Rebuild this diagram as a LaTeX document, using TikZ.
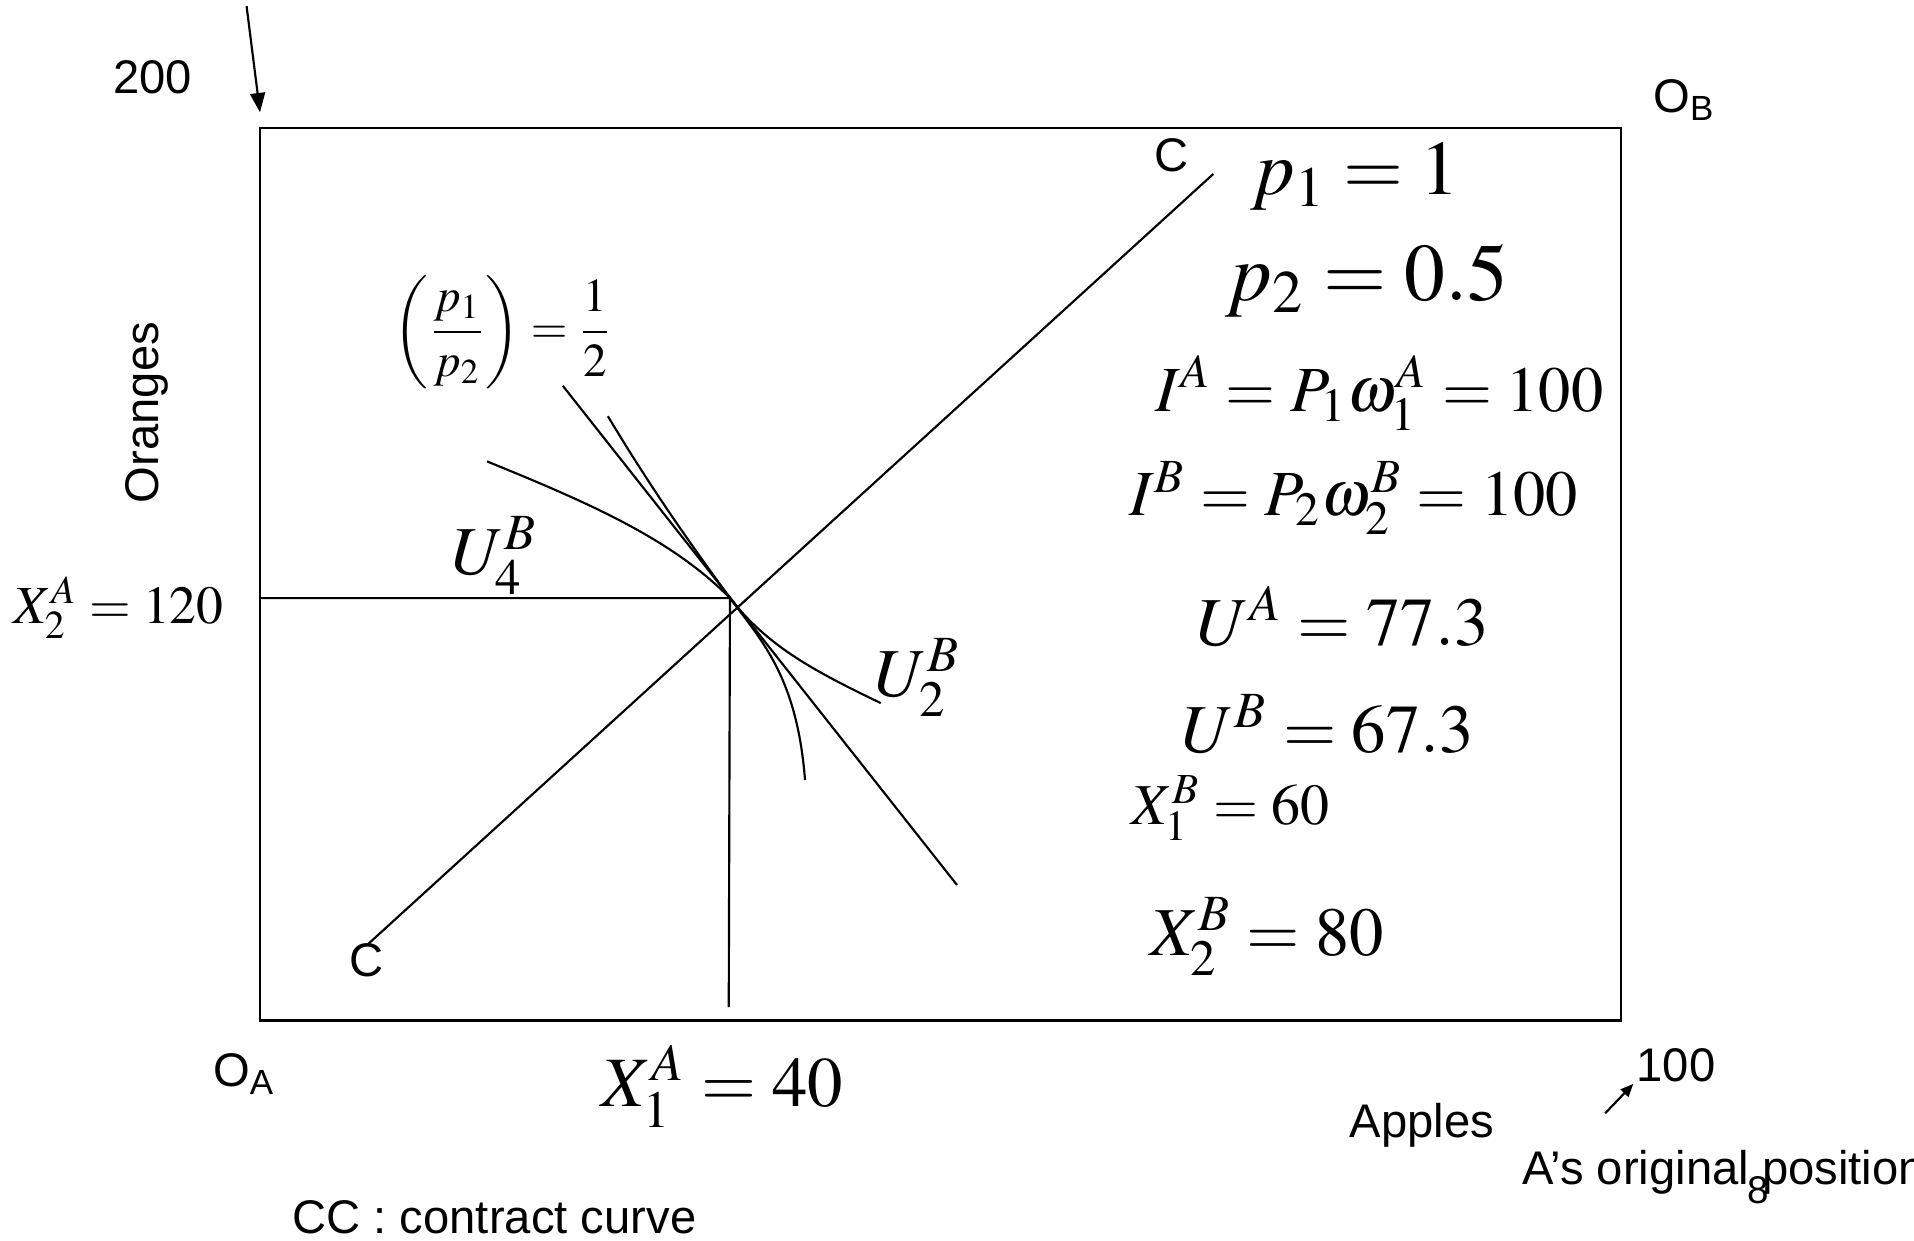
\documentclass[tikz,border=0pt]{standalone}
\usepackage{amsmath}
\usepackage{mathptmx}
\usepackage[no-math]{fontspec}
\setmainfont{Liberation Sans}
\usetikzlibrary{arrows.meta}
\newcommand{\fs}[1]{\fontsize{#1}{#1}\selectfont}

\begin{document}
\begin{tikzpicture}[line width=0.5pt, every node/.style={font=\fs{11}, inner sep=1pt}]
\useasboundingbox (0,0) rectangle (15.68,10.16);

% Edgeworth box
\coordinate (OA) at (2.13,1.80);
\coordinate (OB) at (13.28,9.11);
\draw[line width=0.6pt] (OA) rectangle (OB);

% Corner labels and arrows
\node (n200) at (1.25,9.53) {200};
\coordinate (arrTop) at (2.02,10.11);
\coordinate (arrTip) at (2.13,9.24);
\draw[-{Triangle[length=4.5pt,width=3.5pt]}] (arrTop) -- (arrTip);
\node (labelOB) at (13.80,9.34) {O\textsubscript{B}};
\node (labelOA) at (2.00,1.36) {O\textsubscript{A}};
\node (n100) at (13.73,1.43) {100};
\coordinate (arrLow) at (13.15,1.04);
\coordinate (arrHigh) at (13.38,1.28);
\draw[-{Triangle[length=3pt,width=2.5pt]}] (arrLow) -- (arrHigh);

% Axis labels
\node[rotate=90] (oranges) at (1.20,6.78) {Oranges};
\node (apples) at (11.65,0.94) {Apples};
\node[anchor=west] (origpos) at (12.43,0.56) {A’s original position};
\node[font=\fs{9}] (slideno) at (14.40,0.41) {8};
\node (ccnote) at (4.05,0.19) {CC : contract curve};

% Contract curve CC
\coordinate (cLow) at (3.02,2.43);
\coordinate (cHigh) at (9.94,8.735);
\draw (cLow) -- (cHigh);
\node (cTop) at (9.60,8.89) {C};
\node (cBot) at (3.00,2.29) {C};

% Equilibrium allocation
\coordinate (E) at (5.98,5.26);
\coordinate (yAxis) at (2.13,5.26);
\coordinate (xFoot) at (5.97,1.91);
\draw (yAxis) -- (E) -- (xFoot);

% Price line
\coordinate (bTop) at (4.61,7.00);
\coordinate (bBot) at (7.84,2.91);
\draw (bTop) -- (bBot);

% Indifference curve of A
\coordinate (aTop) at (4.98,6.75);
\coordinate (aBot) at (6.595,3.77);
\draw (aTop) .. controls (5.40,6.05) and (5.75,5.58) .. (E)
             .. controls (6.25,4.90) and (6.53,4.60) .. (aBot);

% Indifference curve of B
\coordinate (uLeft) at (3.99,6.38);
\coordinate (uRight) at (7.215,4.40);
\draw (uLeft) .. controls (4.80,6.05) and (5.50,5.75) .. (E)
              .. controls (6.30,4.85) and (6.70,4.65) .. (uRight);
\node[font=\fs{16}] (labelU4) at (4.05,5.61) {$U_4^B$};
\node[font=\fs{16}] (labelU2) at (7.52,4.61) {$U_2^B$};

% Price ratio
\node (ratio) at (4.12,7.44) {$\left(\dfrac{p_1}{p_2}\right)=\dfrac{1}{2}$};

% Allocation labels
\node[font=\fs{12.5}] (x2A) at (0.97,5.18) {$X_2^A=120$};
\node[font=\fs{16.5}] (x1A) at (5.92,1.26) {$X_1^A=40$};

% Results
\node[font=\fs{18}] (p1) at (11.10,8.71) {$p_1=1$};
\node[font=\fs{19}] (p2) at (11.20,7.86) {$p_2=0.5$};
\node[font=\fs{15}] (IA) at (11.30,6.94) {$I^A=P_1\omega_1^A=100$};
\node[font=\fs{15}] (IB) at (11.09,6.08) {$I^B=P_2\omega_2^B=100$};
\node[font=\fs{16}] (UA) at (11.00,5.11) {$U^A=77.3$};
\node[font=\fs{16}] (UB) at (10.88,4.23) {$U^B=67.3$};
\node[font=\fs{13.5}] (x1B) at (10.08,3.54) {$X_1^B=60$};
\node[font=\fs{16}] (x2B) at (10.38,2.49) {$X_2^B=80$};

\end{tikzpicture}
\end{document}
